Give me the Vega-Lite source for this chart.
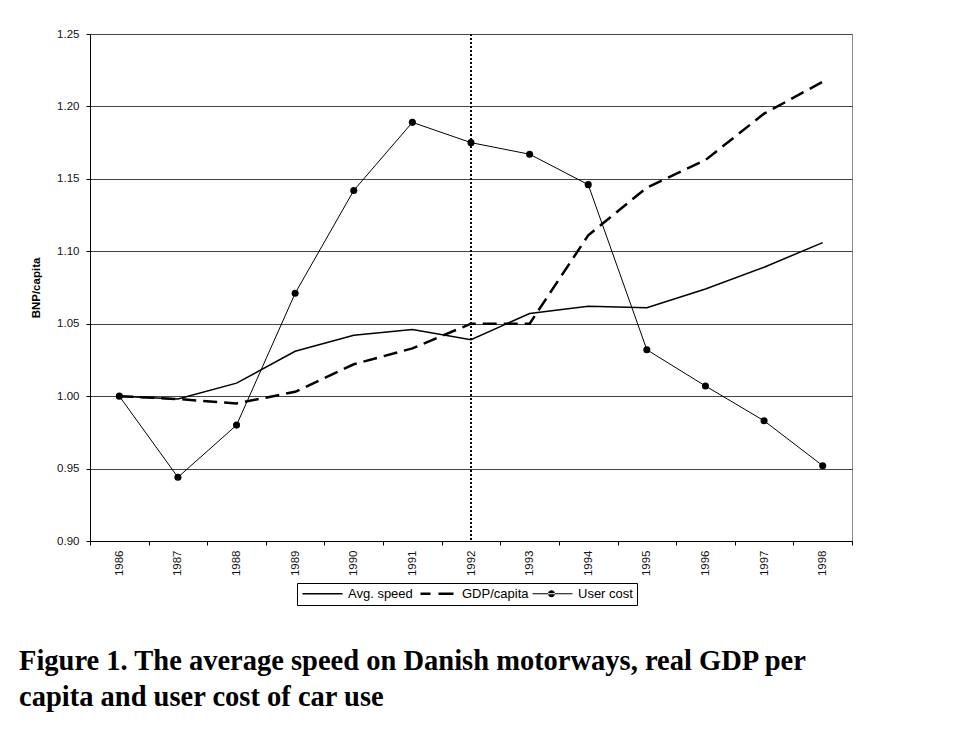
{
  "$schema": "https://vega.github.io/schema/vega-lite/v6.json",
  "width": 762,
  "height": 507,
  "autosize": {"type": "none"},
  "padding": {"left": 90, "top": 34, "right": 115, "bottom": 195},
  "background": "white",
  "config": {
    "view": {"stroke": "#888", "strokeWidth": 1},
    "font": "Liberation Sans"
  },
  "title": {
    "text": ["Figure 1. The average speed on Danish motorways, real GDP per", "capita and user cost of car use"],
    "orient": "bottom",
    "anchor": "start",
    "frame": "group",
    "dx": -71,
    "offset": 41,
    "font": "Liberation Serif",
    "fontSize": 28.5,
    "fontWeight": "bold",
    "lineHeight": 36,
    "color": "black"
  },
  "data": {
    "values": [
      {"year": "1986", "series": "Avg. speed", "value": 1.000},
      {"year": "1987", "series": "Avg. speed", "value": 0.998},
      {"year": "1988", "series": "Avg. speed", "value": 1.009},
      {"year": "1989", "series": "Avg. speed", "value": 1.031},
      {"year": "1990", "series": "Avg. speed", "value": 1.042},
      {"year": "1991", "series": "Avg. speed", "value": 1.046},
      {"year": "1992", "series": "Avg. speed", "value": 1.039},
      {"year": "1993", "series": "Avg. speed", "value": 1.057},
      {"year": "1994", "series": "Avg. speed", "value": 1.062},
      {"year": "1995", "series": "Avg. speed", "value": 1.061},
      {"year": "1996", "series": "Avg. speed", "value": 1.074},
      {"year": "1997", "series": "Avg. speed", "value": 1.089},
      {"year": "1998", "series": "Avg. speed", "value": 1.106},
      {"year": "1986", "series": "GDP/capita", "value": 1.000},
      {"year": "1987", "series": "GDP/capita", "value": 0.998},
      {"year": "1988", "series": "GDP/capita", "value": 0.995},
      {"year": "1989", "series": "GDP/capita", "value": 1.003},
      {"year": "1990", "series": "GDP/capita", "value": 1.022},
      {"year": "1991", "series": "GDP/capita", "value": 1.033},
      {"year": "1992", "series": "GDP/capita", "value": 1.050},
      {"year": "1993", "series": "GDP/capita", "value": 1.050},
      {"year": "1994", "series": "GDP/capita", "value": 1.111},
      {"year": "1995", "series": "GDP/capita", "value": 1.144},
      {"year": "1996", "series": "GDP/capita", "value": 1.163},
      {"year": "1997", "series": "GDP/capita", "value": 1.195},
      {"year": "1998", "series": "GDP/capita", "value": 1.217},
      {"year": "1986", "series": "User cost", "value": 1.000},
      {"year": "1987", "series": "User cost", "value": 0.944},
      {"year": "1988", "series": "User cost", "value": 0.980},
      {"year": "1989", "series": "User cost", "value": 1.071},
      {"year": "1990", "series": "User cost", "value": 1.142},
      {"year": "1991", "series": "User cost", "value": 1.189},
      {"year": "1992", "series": "User cost", "value": 1.175},
      {"year": "1993", "series": "User cost", "value": 1.167},
      {"year": "1994", "series": "User cost", "value": 1.146},
      {"year": "1995", "series": "User cost", "value": 1.032},
      {"year": "1996", "series": "User cost", "value": 1.007},
      {"year": "1997", "series": "User cost", "value": 0.983},
      {"year": "1998", "series": "User cost", "value": 0.952}
    ]
  },
  "layer": [
    {
      "transform": [{"filter": "datum.series === 'Avg. speed'"}],
      "mark": {"type": "line", "color": "black", "strokeWidth": 1.5},
      "encoding": {
        "x": {
          "field": "year",
          "type": "ordinal",
          "bandPosition": 0.5,
          "scale": {"type": "band", "paddingInner": 0, "paddingOuter": 0},
          "axis": {
            "title": null,
            "labelAngle": -90,
            "tickBand": "extent",
            "tickSize": 4,
            "labelPadding": 5,
            "labelFontSize": 11.5,
            "labelColor": "#111",
            "grid": false,
            "domainColor": "black",
            "tickColor": "black"
          }
        },
        "y": {
          "field": "value",
          "type": "quantitative",
          "scale": {"domain": [0.9, 1.25], "nice": false, "zero": false},
          "axis": {
            "values": [0.9, 0.95, 1.0, 1.05, 1.1, 1.15, 1.2, 1.25],
            "format": ".2f",
            "title": "BNP/capita",
            "titleFontWeight": "bold",
            "titleFontSize": 11.5,
            "titleColor": "black",
            "titlePadding": 15,
            "labelFontSize": 11.5,
            "labelColor": "#111",
            "tickSize": 4,
            "labelPadding": 7,
            "domainColor": "black",
            "tickColor": "black",
            "gridColor": "#444"
          }
        }
      }
    },
    {
      "transform": [{"filter": "datum.series === 'GDP/capita'"}],
      "mark": {"type": "line", "color": "black", "strokeWidth": 2.5, "strokeDash": [14, 7]},
      "encoding": {
        "x": {"field": "year", "type": "ordinal", "bandPosition": 0.5},
        "y": {"field": "value", "type": "quantitative"}
      }
    },
    {
      "transform": [{"filter": "datum.series === 'User cost'"}],
      "mark": {"type": "line", "color": "black", "strokeWidth": 1},
      "encoding": {
        "x": {"field": "year", "type": "ordinal", "bandPosition": 0.5},
        "y": {"field": "value", "type": "quantitative"}
      }
    },
    {
      "transform": [{"filter": "datum.series === 'User cost'"}],
      "mark": {"type": "point", "filled": true, "color": "black", "size": 50, "opacity": 1},
      "encoding": {
        "x": {"field": "year", "type": "ordinal", "bandPosition": 0.5},
        "y": {"field": "value", "type": "quantitative"}
      }
    },
    {
      "data": {"values": [{"year": "1992"}]},
      "mark": {"type": "rule", "color": "black", "strokeWidth": 2, "strokeDash": [2, 2]},
      "encoding": {
        "x": {"field": "year", "type": "ordinal", "bandPosition": 0.5}
      }
    },
    {
      "mark": {"type": "point", "filled": true, "color": "black", "opacity": 0},
      "encoding": {
        "x": {"field": "year", "type": "ordinal", "bandPosition": 0.5},
        "y": {"field": "value", "type": "quantitative"},
        "shape": {
          "field": "series",
          "type": "nominal",
          "scale": {
            "domain": ["Avg. speed", "GDP/capita", "User cost"],
            "range": [
              "M-1,-0.15H7V0.15H-1Z",
              "M-0.2,-0.25H1.8V0.25H-0.2ZM3.4,-0.25H6.4V0.25H3.4Z",
              "M-1,-0.1H7V0.1H-1ZM2.1,0A0.7,0.7 0 1,0 3.5,0A0.7,0.7 0 1,0 2.1,0Z"
            ]
          },
          "legend": {
            "orient": "none",
            "legendX": 207,
            "legendY": 549,
            "direction": "horizontal",
            "title": null,
            "symbolSize": 100,
            "symbolFillColor": "black",
            "symbolStrokeColor": "black",
            "symbolStrokeWidth": 0,
            "symbolOpacity": 1,
            "labelOffset": 34,
            "columnPadding": 2,
            "labelFontSize": 13,
            "labelFont": "Liberation Sans",
            "labelColor": "black",
            "labelLimit": 200,
            "strokeColor": "black",
            "padding": 4
          }
        }
      }
    }
  ]
}
